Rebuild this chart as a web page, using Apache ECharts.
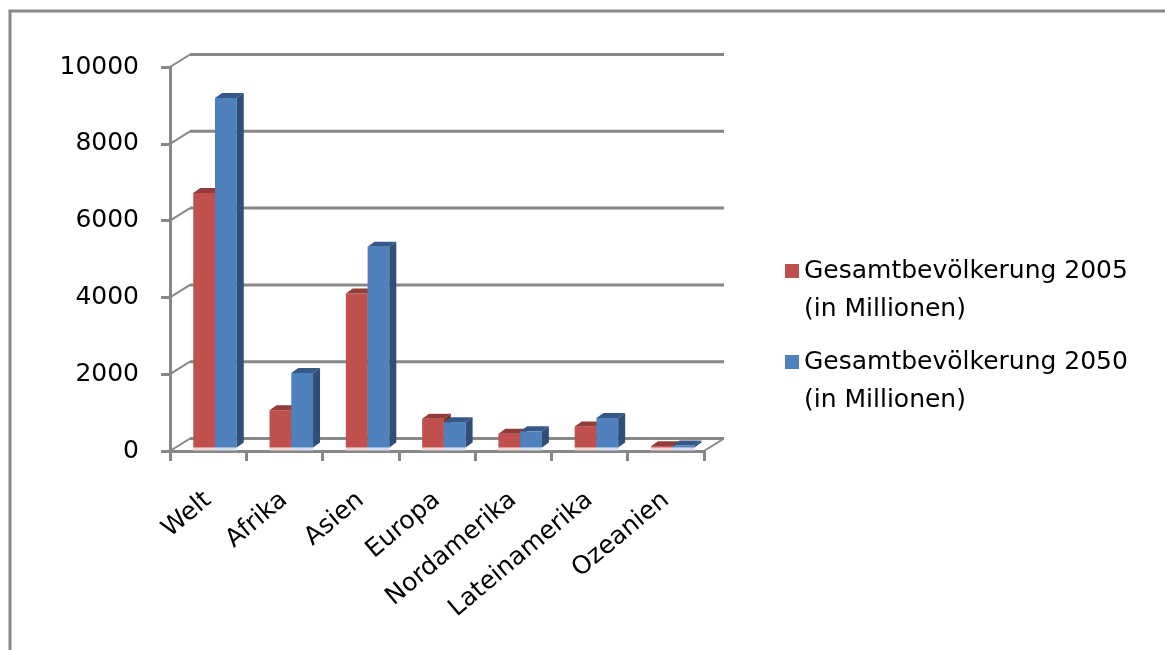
<!DOCTYPE html>
<html>
<head>
<meta charset="utf-8">
<script src="https://cdn.jsdelivr.net/npm/echarts@6/dist/echarts.min.js"></script>
<style>
  html, body { margin: 0; padding: 0; background: #fff; }
  #chart { width: 1165px; height: 650px; }
</style>
</head>
<body>
<div id="chart"></div>
<script>
// Bevoelkerung nach Region (in Millionen)
var regions = ['Welt', 'Afrika', 'Asien', 'Europa', 'Nordamerika', 'Lateinamerika', 'Ozeanien'];
var pop2005 = [6630, 970, 4010, 750, 360, 550, 35];
var pop2050 = [9100, 1940, 5230, 660, 420, 770, 50];
var seriesNames = ['Gesamtbevölkerung 2005', 'Gesamtbevölkerung 2050'];
var yTicks = [0, 2000, 4000, 6000, 8000, 10000];

var gridGray = '#878787';
// depth of the back wall and of a bar
var wallDx = 20, wallDy = -12.5;
var barDx = 7, barDy = -5;

var shades = [
  { front: '#c0504d', top: '#923b38', side: '#7f2f2d', floor: '#f2d5d4' },
  { front: '#4f81bd', top: '#36598a', side: '#2f4f78', floor: '#d3dff0' }
];

function wallItem(params, api) {
  var v = api.value(1);
  var p = api.coord([0, v]);
  var w = api.size([1, 0])[0];
  var x0 = p[0] - w / 2;
  var x1 = x0 + w * regions.length;
  var y = p[1];
  var kids = [];
  kids.push({
    type: 'line',
    shape: { x1: x0, y1: y, x2: x0 + wallDx, y2: y + wallDy },
    style: { stroke: gridGray, lineWidth: 2 }
  });
  kids.push({
    type: 'line',
    shape: { x1: x0 + wallDx, y1: y + wallDy, x2: x1 + wallDx, y2: y + wallDy },
    style: { stroke: gridGray, lineWidth: 3 }
  });
  if (v === 0) {
    kids.push({
      type: 'line',
      shape: { x1: x1, y1: y, x2: x1 + wallDx, y2: y + wallDy },
      style: { stroke: gridGray, lineWidth: 2 }
    });
  }
  return { type: 'group', children: kids };
}

function barRenderer(k) {
  return function (params, api) {
    var i = api.value(0);
    var top = api.coord([i, api.value(1)]);
    var base = api.coord([i, 0]);
    var w = api.size([1, 0])[0];
    var bw = w * 0.285;
    var left = top[0] - w / 2 + w * (0.305 + k * 0.285);
    var yT = top[1] - 3.5;
    var yB = base[1] - 3.5;
    var c = shades[k];
    return {
      type: 'group',
      children: [
        { type: 'rect', shape: { x: left, y: yB, width: bw, height: 3 }, style: { fill: c.floor } },
        { type: 'rect', shape: { x: left, y: yT, width: bw, height: yB - yT }, style: { fill: c.front } },
        { type: 'polygon', shape: { points: [[left, yT], [left + barDx, yT + barDy], [left + bw + barDx, yT + barDy], [left + bw, yT]] }, style: { fill: c.top } },
        { type: 'polygon', shape: { points: [[left + bw, yT], [left + bw + barDx, yT + barDy], [left + bw + barDx, yB + barDy], [left + bw, yB]] }, style: { fill: c.side } }
      ]
    };
  };
}

var chart = echarts.init(document.getElementById('chart'));

chart.setOption({
  backgroundColor: '#fff',
  animation: false,
  grid: { left: 170, right: 461, top: 67, bottom: 199, containLabel: false },
  legend: {
    data: seriesNames,
    orient: 'vertical',
    left: 780,
    top: 247,
    itemWidth: 14,
    itemHeight: 52,
    itemGap: 15,
    selectedMode: false,
    // square sits at the top of the item so it lines up with the first text line
    icon: 'path://M0,0L14,0L14,14L0,14ZM0,52L0,52',
    formatter: function (name) { return name + '\n(in Millionen)'; },
    textStyle: {
      fontFamily: 'DejaVu Sans',
      fontSize: 25,
      lineHeight: 38,
      color: '#000'
    }
  },
  xAxis: {
    type: 'category',
    data: regions,
    axisLine: { lineStyle: { color: gridGray, width: 3 } },
    axisTick: { show: true, length: 10, lineStyle: { color: gridGray, width: 3 } },
    axisLabel: {
      rotate: 40,
      margin: 46,
      fontFamily: 'DejaVu Sans',
      fontSize: 25,
      color: '#000'
    },
    splitLine: { show: false }
  },
  yAxis: {
    type: 'value',
    min: 0,
    max: 10000,
    interval: 2000,
    axisLine: { show: true, lineStyle: { color: gridGray, width: 3 } },
    axisTick: { show: true, length: 9, lineStyle: { color: gridGray, width: 3 } },
    axisLabel: {
      margin: 31,
      fontFamily: 'DejaVu Sans',
      fontSize: 25,
      color: '#000',
      formatter: function (v) { return String(v); }
    },
    splitLine: { show: false }
  },
  graphic: [
    {
      type: 'rect',
      shape: { x: 10, y: 11, width: 1220, height: 700 },
      style: { fill: null, stroke: gridGray, lineWidth: 3 },
      silent: true,
      z: 100
    }
  ],
  series: [
    {
      name: 'wall',
      type: 'custom',
      renderItem: wallItem,
      data: yTicks.map(function (v) { return [0, v]; }),
      encode: { x: 0, y: 1 },
      clip: false,
      silent: true,
      z: 1
    },
    {
      name: seriesNames[0],
      type: 'custom',
      renderItem: barRenderer(0),
      data: pop2005.map(function (v, i) { return [i, v]; }),
      encode: { x: 0, y: 1 },
      itemStyle: { color: shades[0].front },
      z: 2
    },
    {
      name: seriesNames[1],
      type: 'custom',
      renderItem: barRenderer(1),
      data: pop2050.map(function (v, i) { return [i, v]; }),
      encode: { x: 0, y: 1 },
      itemStyle: { color: shades[1].front },
      z: 3
    }
  ]
});
</script>
</body>
</html>
